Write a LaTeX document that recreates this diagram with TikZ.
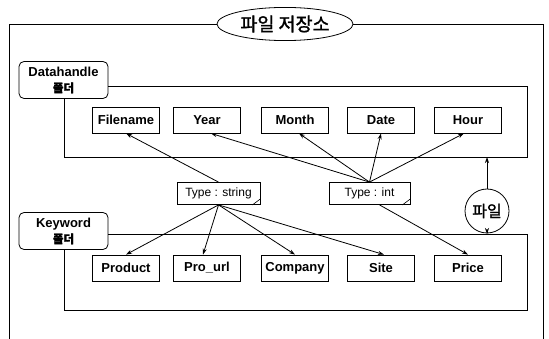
\documentclass[tikz,border=0pt]{standalone}
\usepackage{fontspec}
\setmainfont{Liberation Sans}
\newfontfamily\kr{Noto Sans CJK KR}[FakeBold=1.5]
\usetikzlibrary{shapes.geometric,arrows.meta}
\begin{document}
\begin{tikzpicture}[x=1pt,y=-1pt,
  line width=0.8pt,
  tip/.style={-{Stealth[length=6pt,width=4pt]}},
  field/.style={draw,fill=white,minimum width=67pt,minimum height=26pt,
    inner sep=0pt,font=\fontsize{13}{14}\selectfont\bfseries},
  typebox/.style={draw,fill=white,minimum height=22pt,inner sep=2pt,
    font=\fontsize{12}{13}\selectfont},
  folder/.style={draw,fill=white,rounded corners=5pt,minimum width=89pt,
    minimum height=37pt,inner sep=1pt,align=center,
    font=\fontsize{13}{15}\selectfont\bfseries}]
\useasboundingbox (0,0) rectangle (549,339);

% outer storage frame with its title
\node[ellipse,draw,fill=white,minimum width=136pt,minimum height=32pt,
  font=\kr\fontsize{18.5}{20}\selectfont] (title) at (285,24) {파일 저장소};
\draw (title.west) -- (9,24) -- (9,339);
\draw (title.east) -- (543,24) -- (543,339);

% Datahandle folder
\node[folder] (dfold) at (63.5,80) {Datahandle\\[1pt]{\kr\fontsize{11.5}{13}\selectfont 폴더}};
\draw (dfold.east |- 0,86) -- (527,86) -- (527,157) -- (64,157) -- (64,98);
\coordinate (dbot) at (487,157);

\node[field] (fname) at (126,120) {Filename};
\node[field] (year)  at (207,120) {Year};
\node[field] (month) at (295,120) {Month};
\node[field] (date)  at (381,120) {Date};
\node[field] (hour)  at (468,120) {Hour};

% Keyword folder
\node[folder] (kfold) at (63.5,231) {Keyword\\[1pt]{\kr\fontsize{11.5}{13}\selectfont 폴더}};
\draw (kfold.east |- 0,234) -- (527,234) -- (527,310) -- (64,310) -- (64,250);
\coordinate (ktop) at (487,234);

\node[field] (prod) at (126,268) {Product};
\node[field] (purl) at (207,268) {Pro\_url};
\node[field] (comp) at (295,268) {Company};
\node[field] (site) at (381,268) {Site};
\node[field] (price) at (468,268) {Price};

% type notes with a curled corner
\node[typebox,minimum width=83pt] (tstr) at (218.5,193.5) {Type : string};
\node[typebox,minimum width=81pt] (tint) at (369.5,193.5) {Type : int};
\draw[line width=0.6pt] ([shift={(-8,0)}]tstr.south east) .. controls ([shift={(-4,-3)}]tstr.south east) .. ([shift={(0,-6)}]tstr.south east);
\draw[line width=0.6pt] ([shift={(-8,0)}]tint.south east) .. controls ([shift={(-4,-3)}]tint.south east) .. ([shift={(0,-6)}]tint.south east);

% file circle between the two folders
\node[circle,draw,fill=white,minimum size=44pt,inner sep=0pt,
  font=\kr\fontsize{16}{18}\selectfont] (file) at (487,211) {파일};
\draw[tip] (file.north) -- (dbot);
\draw[tip] (file.south) -- (ktop);

% type links to the fields
\draw[tip] (tstr.north) -- (fname.south);
\draw[tip] (tint.north) -- ([xshift=4pt]year.south);
\draw[tip] (tint.north) -- ([xshift=4pt]month.south);
\draw[tip] (tint.north) -- (date.south);
\draw[tip] (tint.north) -- ([xshift=-4pt]hour.south);

\draw[tip] (tstr.south) -- (prod.north);
\draw[tip] (tstr.south) -- ([xshift=-4pt]purl.north);
\draw[tip] (tstr.south) -- (comp.north);
\draw[tip] (tstr.south) -- ([xshift=3pt]site.north);
\draw[tip] ([xshift=10pt]tint.south) -- (price.north);
\end{tikzpicture}
\end{document}
